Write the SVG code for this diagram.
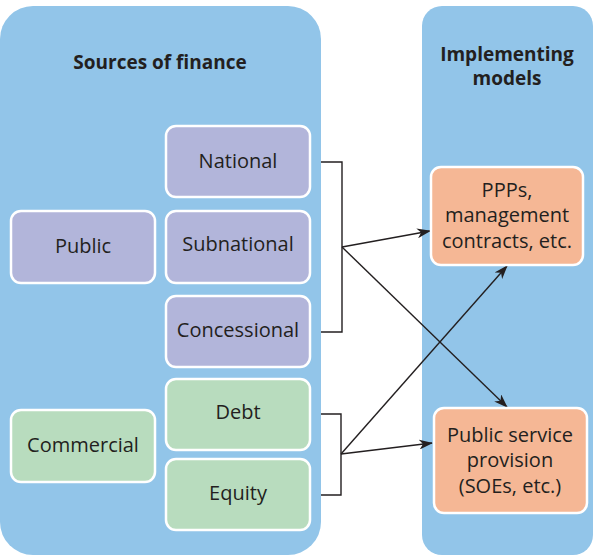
<svg xmlns="http://www.w3.org/2000/svg" width="595" height="558" viewBox="0 0 595 558">
<defs>
<style>
.panel{fill:#92C5E9}
.node rect{stroke:#fff;stroke-width:2.5}
.pub rect{fill:#B2B5DA}
.com rect{fill:#B8DCBE}
.imp rect{fill:#F5B795}
text{font-family:"Open Sans","Liberation Sans",sans-serif;font-size:20px;fill:#231F20;text-anchor:middle}
.title{font-weight:bold;font-size:19px}
.conn{fill:none;stroke:#231F20;stroke-width:1.4}
</style>
<marker id="arr" viewBox="0 0 14 10" refX="13" refY="5" markerWidth="14" markerHeight="10" markerUnits="userSpaceOnUse" orient="auto">
<path d="M0,0 L14,5 L0,10 L4,5 Z" fill="#231F20"/>
</marker>
</defs>
<g id="panel-sources">
<rect class="panel" x="0" y="6" width="321" height="549" rx="33"/>
<text class="title" x="160" y="69">Sources of finance</text>
</g>
<g id="panel-models">
<rect class="panel" x="422" y="6" width="171" height="549" rx="20"/>
<text class="title" x="507" y="61">Implementing</text>
<text class="title" x="507" y="85">models</text>
</g>
<g id="connectors">
<polyline class="conn" points="321,162 342,162 342,332 321,332"/>
<polyline class="conn" points="321,414 341,414 341,495 321,495"/>
<line class="conn" x1="342" y1="247" x2="430" y2="231" marker-end="url(#arr)"/>
<line class="conn" x1="342" y1="247" x2="507" y2="407" marker-end="url(#arr)"/>
<line class="conn" x1="341" y1="454" x2="432" y2="443" marker-end="url(#arr)"/>
<line class="conn" x1="341" y1="454" x2="507" y2="266" marker-end="url(#arr)"/>
</g>
<g id="public" class="node pub">
<rect x="11" y="211" width="144" height="72" rx="10"/>
<text x="83" y="253">Public</text>
</g>
<g id="national" class="node pub">
<rect x="166" y="126" width="144" height="71" rx="10"/>
<text x="238" y="168">National</text>
</g>
<g id="subnational" class="node pub">
<rect x="166" y="211" width="144" height="72" rx="10"/>
<text x="238" y="251">Subnational</text>
</g>
<g id="concessional" class="node pub">
<rect x="166" y="296" width="144" height="71" rx="10"/>
<text x="238" y="337">Concessional</text>
</g>
<g id="commercial" class="node com">
<rect x="11" y="410" width="144" height="72" rx="10"/>
<text x="83" y="452">Commercial</text>
</g>
<g id="debt" class="node com">
<rect x="166" y="379" width="144" height="71" rx="10"/>
<text x="238" y="419">Debt</text>
</g>
<g id="equity" class="node com">
<rect x="166" y="459" width="144" height="71" rx="10"/>
<text x="238" y="500">Equity</text>
</g>
<g id="ppps" class="node imp">
<rect x="431" y="167" width="152" height="98" rx="10"/>
<text x="507" y="197">PPPs,</text>
<text x="507" y="222">management</text>
<text x="507" y="248">contracts, etc.</text>
</g>
<g id="public-service" class="node imp">
<rect x="434" y="408" width="153" height="105" rx="10"/>
<text x="510" y="442">Public service</text>
<text x="510" y="467">provision</text>
<text x="510" y="493">(SOEs, etc.)</text>
</g>
</svg>
